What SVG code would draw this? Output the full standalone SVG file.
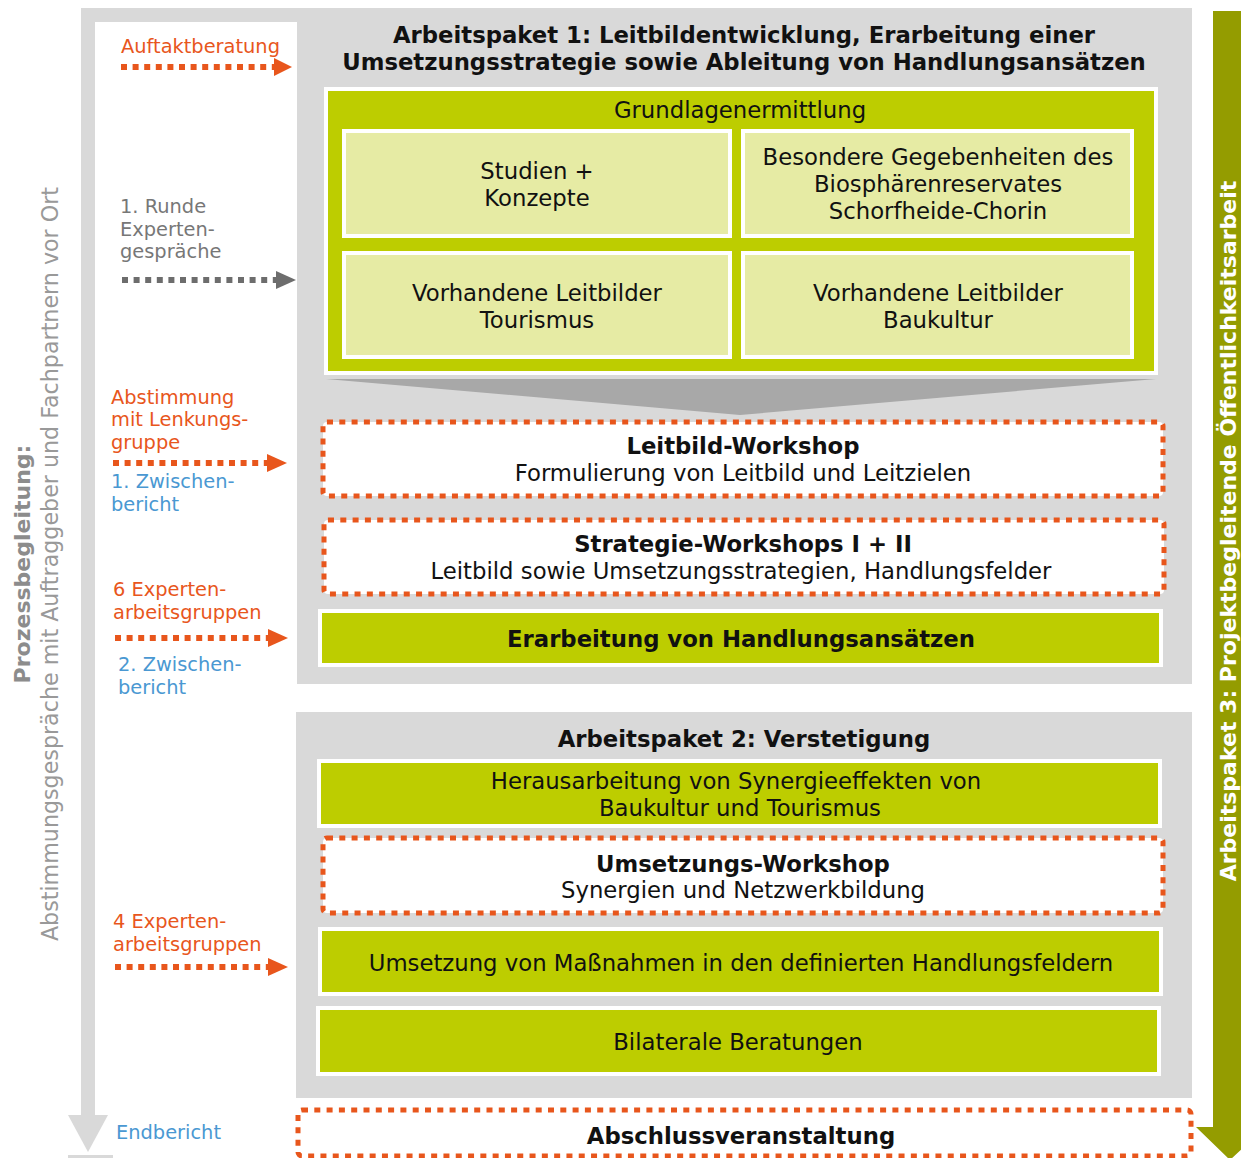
<svg xmlns="http://www.w3.org/2000/svg" width="1241" height="1158" viewBox="0 0 1241 1158">
<defs>
<style>
text{font-family:"DejaVu Sans","Verdana",sans-serif;}
.t{font-size:22.75px;fill:#111;text-anchor:middle;}
.tb{font-size:22.75px;fill:#111;text-anchor:middle;font-weight:bold;}
.lt{font-size:19.4px;}
.or{fill:#e8561c;}
.gr{fill:#777;}
.bl{fill:#4a98d2;}
.gbox{fill:#bdcd00;stroke:#fff;stroke-width:4;}
.lbox{fill:#e6eba4;stroke:#fff;stroke-width:4;}
.dbox{fill:#fff;stroke:#e8561c;stroke-width:5;stroke-dasharray:6 6.3;}
.darr{fill:none;stroke-width:6;stroke-dasharray:6 5.6;}
</style>
</defs>
<rect width="1241" height="1158" fill="#fff"/>
<!-- background grey frame -->
<g id="frame">
<rect x="81" y="8" width="217" height="14" fill="#d9d9d9"/>
<rect x="81" y="8" width="14" height="1108" fill="#d9d9d9"/>
<polygon points="68,1115 108,1115 88,1152" fill="#d9d9d9"/>
<rect x="68" y="1155" width="45" height="4" fill="#d9d9d9"/>
<rect x="297" y="8" width="895" height="676" fill="#d9d9d9"/>
<rect x="296" y="712" width="896" height="386" fill="#d9d9d9"/>
</g>
<!-- left vertical label -->
<g id="prozess">
<text transform="translate(30,564) rotate(-90)" text-anchor="middle" font-size="22" font-weight="bold" fill="#8c8c8c">Prozessbegleitung:</text>
<text transform="translate(58,564) rotate(-90)" text-anchor="middle" font-size="22.2" fill="#999">Abstimmungsgespräche mit Auftraggeber und Fachpartnern vor Ort</text>
</g>
<!-- right arrow -->
<g id="ap3">
<polygon points="1213,11 1250,11 1250,1127 1265,1127 1230,1160 1196,1127 1213,1127" fill="#949c00"/>
<text transform="translate(1236,531) rotate(-90)" text-anchor="middle" font-size="22" font-weight="bold" fill="#fff">Arbeitspaket 3: Projektbegleitende Öffentlichkeitsarbeit</text>
</g>
<!-- AP1 -->
<g id="ap1-title">
<text class="tb" x="744" y="43">Arbeitspaket 1: Leitbildentwicklung, Erarbeitung einer</text>
<text class="tb" x="744" y="70">Umsetzungsstrategie sowie Ableitung von Handlungsansätzen</text>
</g>
<g id="grundlagen">
<rect x="326" y="89" width="830" height="284" fill="#bdcd00" stroke="#fff" stroke-width="4"/>
<text class="t" x="740" y="118">Grundlagenermittlung</text>
</g>
<g id="studien">
<rect class="lbox" x="344" y="131" width="386" height="105"/>
<text class="t" x="537" y="179">Studien +</text>
<text class="t" x="537" y="206">Konzepte</text>
</g>
<g id="besondere">
<rect class="lbox" x="743" y="131" width="389" height="105"/>
<text class="t" x="938" y="165">Besondere Gegebenheiten des</text>
<text class="t" x="938" y="192">Biosphärenreservates</text>
<text class="t" x="938" y="219">Schorfheide-Chorin</text>
</g>
<g id="tourismus">
<rect class="lbox" x="344" y="253" width="386" height="104"/>
<text class="t" x="537" y="301">Vorhandene Leitbilder</text>
<text class="t" x="537" y="328">Tourismus</text>
</g>
<g id="baukultur">
<rect class="lbox" x="743" y="253" width="389" height="104"/>
<text class="t" x="938" y="301">Vorhandene Leitbilder</text>
<text class="t" x="938" y="328">Baukultur</text>
</g>
<g id="funnel">
<polygon points="326,379 1156,379 740,415" fill="#a8a8a8"/>
</g>
<g id="leitbild-ws">
<rect class="dbox" x="323" y="422" width="840" height="74" rx="4"/>
<text class="tb" x="743" y="454">Leitbild-Workshop</text>
<text class="t" x="743" y="481">Formulierung von Leitbild und Leitzielen</text>
</g>
<g id="strategie-ws">
<rect class="dbox" x="324" y="520" width="840" height="74" rx="4"/>
<text class="tb" x="743" y="552">Strategie-Workshops I + II</text>
<text class="t" x="741" y="579">Leitbild sowie Umsetzungsstrategien, Handlungsfelder</text>
</g>
<g id="erarbeitung">
<rect class="gbox" x="320" y="611" width="841" height="54"/>
<text class="tb" x="741" y="647">Erarbeitung von Handlungsansätzen</text>
</g>
<!-- AP2 -->
<g id="ap2-title">
<text class="tb" x="744" y="747">Arbeitspaket 2: Verstetigung</text>
</g>
<g id="synergie">
<rect class="gbox" x="319" y="761" width="841" height="65"/>
<text class="t" x="736" y="789">Herausarbeitung von Synergieeffekten von</text>
<text class="t" x="740" y="816">Baukultur und Tourismus</text>
</g>
<g id="umsetzungs-ws">
<rect class="dbox" x="323" y="838" width="840" height="75" rx="4"/>
<text class="tb" x="743" y="872">Umsetzungs-Workshop</text>
<text class="t" x="743" y="898">Synergien und Netzwerkbildung</text>
</g>
<g id="massnahmen">
<rect class="gbox" x="320" y="929" width="841" height="65"/>
<text class="t" x="741" y="971">Umsetzung von Maßnahmen in den definierten Handlungsfeldern</text>
</g>
<g id="bilateral">
<rect class="gbox" x="318" y="1008" width="841" height="66"/>
<text class="t" x="738" y="1050">Bilaterale Beratungen</text>
</g>
<g id="abschluss">
<rect class="dbox" x="298" y="1110" width="893" height="46" rx="4"/>
<text class="tb" x="741" y="1144">Abschlussveranstaltung</text>
</g>
<!-- left labels -->
<g id="labels">
<text class="lt or" x="121" y="53">Auftaktberatung</text>
<text class="lt gr" x="120" y="213">1. Runde</text>
<text class="lt gr" x="120" y="236">Experten-</text>
<text class="lt gr" x="120" y="258">gespräche</text>
<text class="lt or" x="111" y="404">Abstimmung</text>
<text class="lt or" x="111" y="426">mit Lenkungs-</text>
<text class="lt or" x="111" y="449">gruppe</text>
<text class="lt bl" x="111" y="488">1. Zwischen-</text>
<text class="lt bl" x="111" y="511">bericht</text>
<text class="lt or" x="113" y="596">6 Experten-</text>
<text class="lt or" x="113" y="619">arbeitsgruppen</text>
<text class="lt bl" x="118" y="671">2. Zwischen-</text>
<text class="lt bl" x="118" y="694">bericht</text>
<text class="lt or" x="113" y="928">4 Experten-</text>
<text class="lt or" x="113" y="951">arbeitsgruppen</text>
<text class="lt bl" x="116" y="1139">Endbericht</text>
</g>
<!-- connectors -->
<g id="connectors">
<line class="darr" x1="121" y1="67" x2="276" y2="67" stroke="#e8561c"/>
<polygon points="274,58 292,67 274,76" fill="#e8561c"/>
<line class="darr" x1="122" y1="280" x2="278" y2="280" stroke="#6d6d6d"/>
<polygon points="276,271 296,280 276,289" fill="#6d6d6d"/>
<line class="darr" x1="113" y1="463" x2="269" y2="463" stroke="#e8561c"/>
<polygon points="267,454 287,463 267,472" fill="#e8561c"/>
<line class="darr" x1="115" y1="638" x2="270" y2="638" stroke="#e8561c"/>
<polygon points="268,629 288,638 268,647" fill="#e8561c"/>
<line class="darr" x1="115" y1="967" x2="270" y2="967" stroke="#e8561c"/>
<polygon points="268,958 288,967 268,976" fill="#e8561c"/>
</g>
</svg>
